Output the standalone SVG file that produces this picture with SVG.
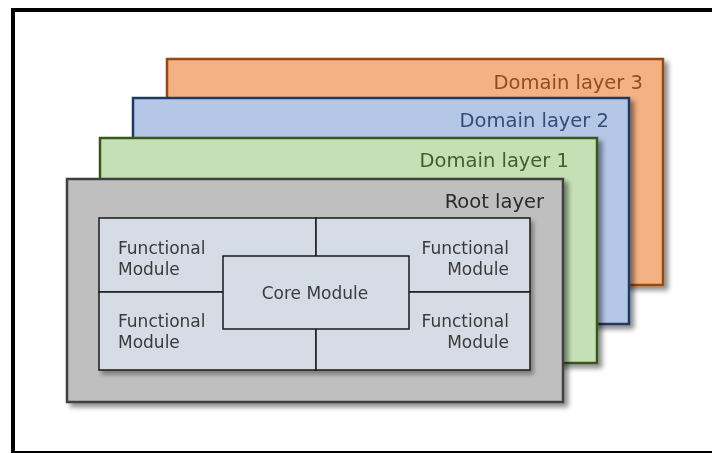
<svg xmlns="http://www.w3.org/2000/svg" width="712" height="453" viewBox="0 0 712 453">
  <defs>
    <filter id="sh" x="-10%" y="-10%" width="125%" height="130%">
      <feGaussianBlur in="SourceAlpha" stdDeviation="2.5"/>
      <feOffset dx="4" dy="4" result="b"/>
      <feComponentTransfer><feFuncA type="linear" slope="0.45"/></feComponentTransfer>
      <feMerge><feMergeNode/><feMergeNode in="SourceGraphic"/></feMerge>
    </filter>
    <filter id="sh2" x="-10%" y="-10%" width="125%" height="130%">
      <feGaussianBlur in="SourceAlpha" stdDeviation="2"/>
      <feOffset dx="3" dy="4" result="b"/>
      <feComponentTransfer><feFuncA type="linear" slope="0.35"/></feComponentTransfer>
      <feMerge><feMergeNode/><feMergeNode in="SourceGraphic"/></feMerge>
    </filter>
  </defs>
  <style>
    .lbl { font-family: "DejaVu Sans", "Liberation Sans", sans-serif; font-size: 19.5px; text-anchor: end; }
    .mod { font-family: "DejaVu Sans", "Liberation Sans", sans-serif; font-size: 17px; fill: #3a3a3a; }
    .cell { fill: #D6DCE5; stroke: #1a1a1a; stroke-width: 1.5; }
  </style>
  <rect x="0" y="0" width="712" height="453" fill="#ffffff"/>
  <rect id="frame" x="13" y="10" width="710" height="443" fill="none" stroke="#000000" stroke-width="4"/>

  <g id="domain3" filter="url(#sh)">
    <rect x="167" y="59" width="496" height="226" fill="#F4B183" stroke="#984807" stroke-width="2.5"/>
    <text class="lbl" x="643" y="89" fill="#8E4E24">Domain layer 3</text>
  </g>
  <g id="domain2" filter="url(#sh)">
    <rect x="133" y="98" width="496" height="226" fill="#B4C7E7" stroke="#203864" stroke-width="2.5"/>
    <text class="lbl" x="609" y="127" fill="#354C78">Domain layer 2</text>
  </g>
  <g id="domain1" filter="url(#sh)">
    <rect x="100" y="138" width="497" height="225" fill="#C5E0B4" stroke="#385723" stroke-width="2.5"/>
    <text class="lbl" x="569" y="166.5" fill="#3F5F2A">Domain layer 1</text>
  </g>
  <g id="root" filter="url(#sh)">
    <rect x="67" y="179" width="496" height="223" fill="#BFBFBF" stroke="#404040" stroke-width="2.5"/>
    <text class="lbl" x="544" y="208" fill="#2a2a2a">Root layer</text>
  </g>

  <g id="modules" filter="url(#sh2)">
    <g id="fm-tl">
      <rect class="cell" x="99" y="218" width="217" height="74"/>
      <text class="mod" x="118" y="254">Functional</text>
      <text class="mod" x="118" y="274.5">Module</text>
    </g>
    <g id="fm-tr">
      <rect class="cell" x="316" y="218" width="214" height="74"/>
      <text class="mod" x="509" y="254" text-anchor="end">Functional</text>
      <text class="mod" x="509" y="274.5" text-anchor="end">Module</text>
    </g>
    <g id="fm-bl">
      <rect class="cell" x="99" y="292" width="217" height="78"/>
      <text class="mod" x="118" y="327">Functional</text>
      <text class="mod" x="118" y="348">Module</text>
    </g>
    <g id="fm-br">
      <rect class="cell" x="316" y="292" width="214" height="78"/>
      <text class="mod" x="509" y="327" text-anchor="end">Functional</text>
      <text class="mod" x="509" y="348" text-anchor="end">Module</text>
    </g>
    <g id="core">
      <rect class="cell" x="223" y="256" width="186" height="73"/>
      <text class="mod" x="315" y="299" text-anchor="middle" font-size="17.5">Core Module</text>
    </g>
  </g>
  <g id="connectors"/>
</svg>
